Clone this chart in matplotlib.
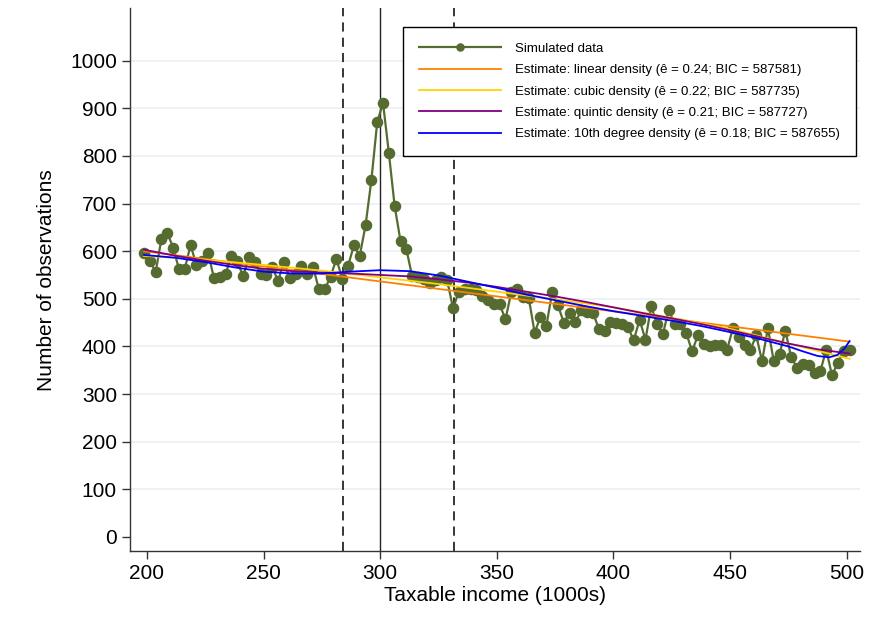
"""
Simulated bunching data at a kink (300) with polynomial density estimates.
Output: out.png
"""

import matplotlib
matplotlib.use('Agg')
import matplotlib.pyplot as plt
import numpy as np

plt.rcParams['font.family'] = ['Liberation Sans', 'DejaVu Sans']

# ── Data ───────────────────────────────────────────────────────────────────────
# bin centres: 198.75 ... 501.25, bin width 2.5
bin_x = np.arange(198.75, 501.26, 2.5)
counts = [
    596, 580, 556, 626, 639, 607, 563, 563, 613, 570,
    580, 597, 543, 545, 552, 590, 579, 547, 588, 577,
    552, 549, 567, 537, 578, 544, 552, 568, 552, 567,
    520, 520, 546, 584, 542, 569, 612, 590, 654, 749,
    871, 911, 806, 694, 621, 604, 547, 546, 542, 534,
    540, 546, 539, 480, 515, 521, 521, 519, 505, 497,
    489, 488, 457, 514, 520, 504, 501, 429, 462, 442,
    514, 486, 450, 471, 451, 476, 472, 471, 437, 433,
    452, 450, 446, 440, 413, 456, 414, 484, 446, 426,
    477, 447, 447, 428, 390, 423, 404, 400, 402, 402,
    393, 438, 420, 403, 393, 423, 369, 438, 370, 384,
    433, 377, 355, 362, 360, 344, 348, 393, 339, 366,
    390, 393,
]

lin_x = [198.75, 501.25]
lin_y = [600, 410]

cub_x = [198.75, 225, 250, 275, 300, 325, 350, 375, 400, 425, 450, 475, 501.25]
cub_y = [590, 582, 571, 559, 545, 531, 515, 499, 482, 460, 437, 406, 374]

qui_x = [198.75, 212.5, 225, 237.5, 250, 262.5, 275, 287.5, 300, 312.5, 325,
         337.5, 350, 362.5, 375, 387.5, 400, 412.5, 425, 437.5, 450, 462.5,
         475, 487.5, 501.25]
qui_y = [603, 590, 580, 571, 563, 558, 555, 553, 550, 547, 541,
         534, 525, 515, 505, 494, 482, 470, 459, 447, 434, 420,
         406, 394, 385]

deg10_x = [198.75, 212.5, 225, 237.5, 250, 262.5, 275, 287.5, 300, 312.5, 325,
           337.5, 350, 362.5, 375, 387.5, 400, 412.5, 425, 437.5, 450, 462.5,
           475, 481, 487.5, 492.5, 496, 499, 501.25]
deg10_y = [592, 586, 577, 566, 557, 553, 553, 557, 560, 558, 549,
           536, 523, 509, 497, 485, 474, 464, 454, 443, 430, 416,
           400, 390, 380, 377, 382, 395, 411]

KINK = 300
EXCL_LO, EXCL_HI = 284.2, 331.6

LABELS = [
    'Simulated data',
    'Estimate: linear density (ê = 0.24; BIC = 587581)',
    'Estimate: cubic density (ê = 0.22; BIC = 587735)',
    'Estimate: quintic density (ê = 0.21; BIC = 587727)',
    'Estimate: 10th degree density (ê = 0.18; BIC = 587655)',
]

GREEN  = '#556b2f'
ORANGE = '#ff8000'
YELLOW = '#ffd200'
PURPLE = '#800080'
BLUE   = '#0000ff'

# ── Plot ───────────────────────────────────────────────────────────────────────
fig = plt.figure(figsize=(8.79, 6.35), dpi=100)
ax = fig.add_axes([0.148, 0.132, 0.830, 0.855])

for yv in range(100, 1001, 100):
    ax.axhline(yv, color='#eaf0f3', lw=1.2, zorder=0)

ax.axvline(EXCL_LO, color='black', lw=1.1, ls=(0, (6, 4)), zorder=1)
ax.axvline(EXCL_HI, color='black', lw=1.1, ls=(0, (6, 4)), zorder=1)
ax.axvline(KINK, color='#222222', lw=1.0, zorder=1)

ax.plot(bin_x, counts, color=GREEN, lw=1.6, marker='o', ms=7.3,
        mec=GREEN, mfc=GREEN, label=LABELS[0], zorder=2)
ax.plot(lin_x, lin_y, color=ORANGE, lw=1.3, label=LABELS[1], zorder=3)
ax.plot(cub_x, cub_y, color=YELLOW, lw=1.3, label=LABELS[2], zorder=3)
ax.plot(qui_x, qui_y, color=PURPLE, lw=1.3, label=LABELS[3], zorder=3)
ax.plot(deg10_x, deg10_y, color=BLUE, lw=1.3, label=LABELS[4], zorder=4)

ax.set_xlim(192.8, 505.6)
ax.set_ylim(-30, 1110)
ax.set_xticks(range(200, 501, 50))
ax.set_yticks(range(0, 1001, 100))
ax.tick_params(labelsize=15, length=6, width=1, color='#333333')
ax.spines['top'].set_visible(False)
ax.spines['right'].set_visible(False)
for s in ('left', 'bottom'):
    ax.spines[s].set_linewidth(1.0)
    ax.spines[s].set_color('#333333')

ax.set_xlabel('Taxable income (1000s)', fontsize=15, labelpad=2)
ax.set_ylabel('Number of observations', fontsize=15, labelpad=10)

leg = ax.legend(loc='upper right', bbox_to_anchor=(856 / 879, 1 - 27 / 635),
                bbox_transform=fig.transFigure, borderaxespad=0,
                fontsize=9.5, handlelength=6.2, handletextpad=1.1,
                labelspacing=0.69, borderpad=1.2, fancybox=False,
                framealpha=1, edgecolor='black', markerscale=0.7)
leg.get_frame().set_linewidth(1.0)

fig.savefig('out.png', dpi=100, facecolor='white')
plt.close(fig)
